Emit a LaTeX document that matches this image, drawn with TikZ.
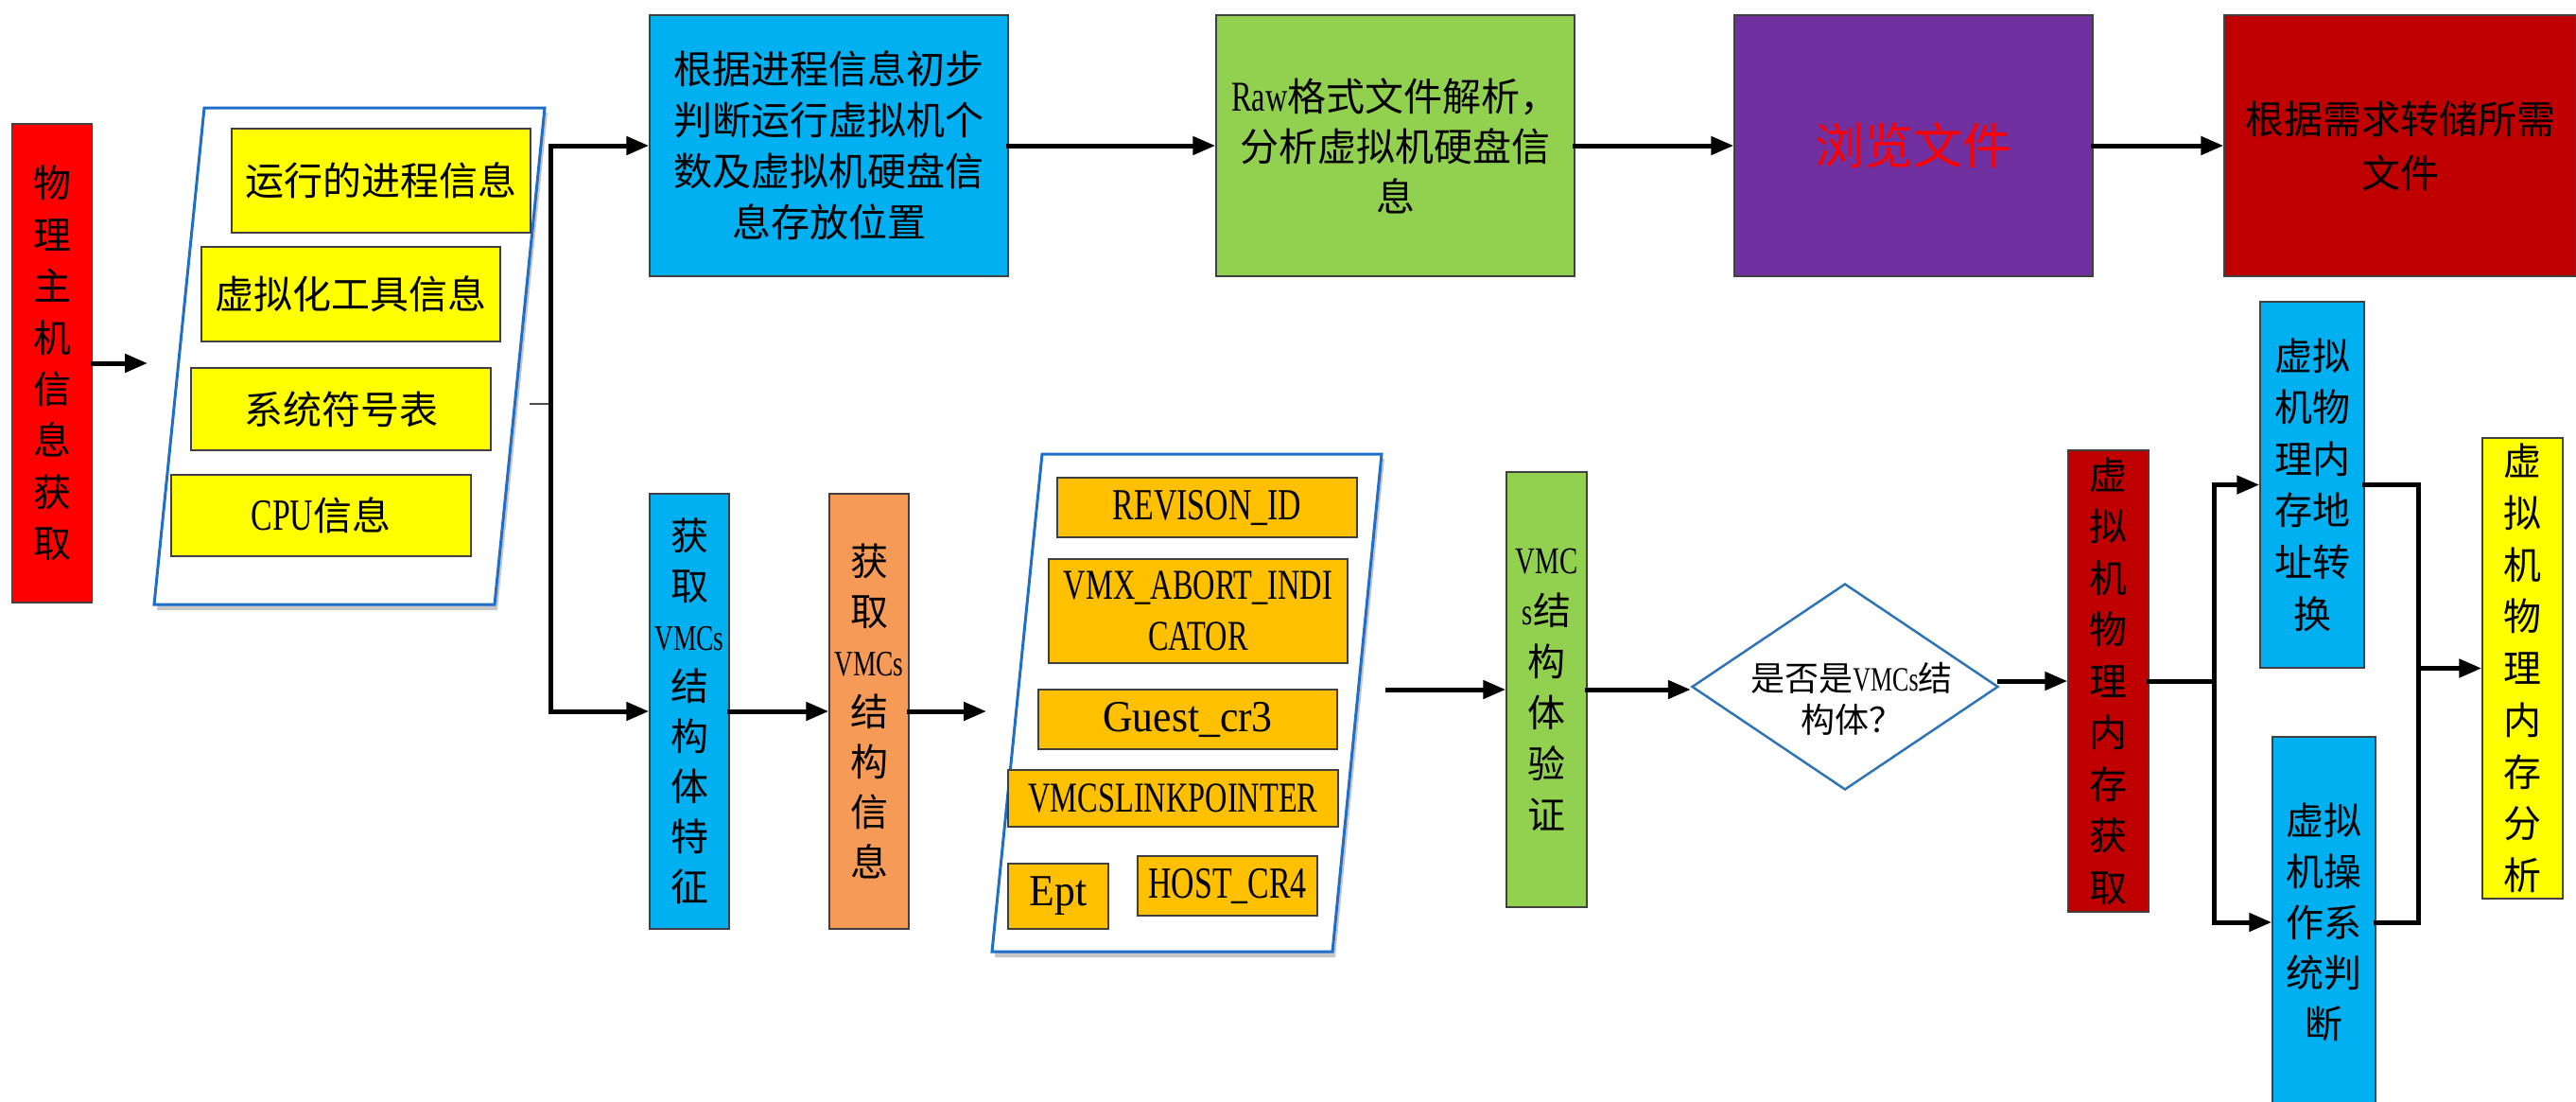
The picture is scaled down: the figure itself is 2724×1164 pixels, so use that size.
\documentclass[tikz,border=0pt]{standalone}
\usepackage{fontspec}
\setmainfont{Noto Sans CJK SC}
\newfontfamily\lat[FakeStretch=0.72]{Liberation Serif}
\newfontfamily\latw[FakeStretch=0.93]{Liberation Serif}
\usetikzlibrary{shapes.geometric,arrows.meta}
\definecolor{cRed}{HTML}{FF0000}
\definecolor{cYellow}{HTML}{FFFF00}
\definecolor{cBlue}{HTML}{00B0F0}
\definecolor{cGreen}{HTML}{92D050}
\definecolor{cPurple}{HTML}{7030A0}
\definecolor{cDarkRed}{HTML}{C00000}
\definecolor{cOrange}{HTML}{F59B57}
\definecolor{cGold}{HTML}{FFC000}
\definecolor{parBlue}{HTML}{1F6FC8}
\definecolor{diaBlue}{HTML}{2E75B6}
\definecolor{edgeGray}{HTML}{404040}
\newcommand{\ltn}[2]{{\lat\fontsize{#1}{54}\selectfont #2}}
\begin{document}
\begin{tikzpicture}[x=1pt,y=-1pt,
  flowbox/.style={rectangle, draw=edgeGray, line width=1.5pt, inner sep=0pt, align=center},
  goldbox/.style={flowbox, fill=cGold, font=\lat\fontsize{47}{54}\selectfont},
  arr/.style={-{Triangle[length=24pt,width=19pt]}, line width=5pt, line cap=rect},
  ln/.style={line width=5pt, line cap=rect},
  shadowfill/.style={fill=black!22, draw=none}
]
\useasboundingbox (0,0) rectangle (2724,1164);
\clip (0,0) rectangle (2724,1164);

% ---- left: physical host
\node[flowbox, fill=cRed, minimum width=85pt, minimum height=506pt,
      font=\fontsize{40}{54.4}\selectfont] (phys) at (55,384)
      {物\\理\\主\\机\\信\\息\\获\\取};

% parallelogram 1
\fill[shadowfill] (219,119) -- (579,119) -- (526,645) -- (166,645) -- cycle;
\draw[parBlue, line width=3pt, fill=white] (216,114) -- (576,114) -- (523,639) -- (163,639) -- cycle;

\node[flowbox, fill=cYellow, minimum width=316pt, minimum height=110pt,
      font=\fontsize{41}{54}\selectfont] (info1) at (403,191) {运行的进程信息};
\node[flowbox, fill=cYellow, minimum width=316pt, minimum height=100pt,
      font=\fontsize{41}{54}\selectfont] (info2) at (371,311) {虚拟化工具信息};
\node[flowbox, fill=cYellow, minimum width=317pt, minimum height=87pt,
      font=\fontsize{41}{54}\selectfont] (info3) at (360.5,432.5) {系统符号表};
\node[flowbox, fill=cYellow, minimum width=317pt, minimum height=86pt,
      font=\fontsize{41}{54}\selectfont] (info4) at (339.5,545) {\ltn{47}{CPU}信息};

% ---- top row
\node[flowbox, fill=cBlue, minimum width=379pt, minimum height=276pt,
      font=\fontsize{41}{54}\selectfont] (vmpos) at (876.5,154)
      {根据进程信息初步\\判断运行虚拟机个\\数及虚拟机硬盘信\\息存放位置};
\node[flowbox, fill=cGreen, minimum width=379pt, minimum height=276pt,
      font=\fontsize{41}{53}\selectfont] (raw) at (1475.5,154)
      {\ltn{45}{Raw}格式文件解析，\\分析虚拟机硬盘信\\息};
\node[flowbox, fill=cPurple, minimum width=379pt, minimum height=276pt,
      font=\fontsize{52}{60}\selectfont, text=cRed] (browse) at (2023.5,154) {浏览文件};
\node[flowbox, fill=cDarkRed, minimum width=372pt, minimum height=276pt,
      font=\fontsize{41}{57}\selectfont] (dump) at (2538,154)
      {根据需求转储所需\\文件};

% ---- bottom row
\node[flowbox, fill=cBlue, minimum width=84pt, minimum height=460pt,
      font=\fontsize{40}{53}\selectfont] (feat) at (729,752)
      {获\\取\\\ltn{38}{VMCs}\\结\\构\\体\\特\\征};
\node[flowbox, fill=cOrange, minimum width=84pt, minimum height=460pt,
      font=\fontsize{40}{53}\selectfont] (sinfo) at (919,752)
      {获\\取\\\ltn{38}{VMCs}\\结\\构\\信\\息};

% parallelogram 2
\fill[shadowfill] (1105,485) -- (1464,485) -- (1412,1012) -- (1052,1012) -- cycle;
\draw[parBlue, line width=3pt, fill=white] (1102,480) -- (1461,480) -- (1409,1006) -- (1049,1006) -- cycle;

\node[goldbox, minimum width=317pt, minimum height=63pt] (rev) at (1276.5,536.5) {REVISON\_ID};
\node[goldbox, minimum width=316pt, minimum height=110pt,
      font=\lat\fontsize{45}{54}\selectfont] (vmx) at (1267,646) {VMX\_ABORT\_INDI\\CATOR};
\node[goldbox, minimum width=316pt, minimum height=63pt,
      font=\latw\fontsize{47}{54}\selectfont] (gcr) at (1256,760.5) {Guest\_cr3};
\node[goldbox, minimum width=349pt, minimum height=60pt,
      font=\lat\fontsize{45}{54}\selectfont] (link) at (1240.5,844) {VMCSLINKPOINTER};
\node[goldbox, minimum width=106pt, minimum height=69pt,
      font=\latw\fontsize{47}{54}\selectfont] (ept) at (1119,947.5) {Ept};
\node[goldbox, minimum width=190pt, minimum height=63pt] (host) at (1298,936.5) {HOST\_CR4};

\node[flowbox, fill=cGreen, minimum width=85pt, minimum height=460pt,
      font=\fontsize{40}{54}\selectfont] (verify) at (1635.5,729)
      {\ltn{40}{VMC}\\\ltn{40}{s}结\\构\\体\\验\\证};

\node[diamond, draw=diaBlue, line width=2.5pt, fill=white, inner sep=0pt,
      minimum width=324pt, minimum height=218pt] (dia) at (1951,726) {};
\node[align=center, inner sep=0pt, font=\fontsize{36}{44}\selectfont] (diatext) at (1958,739)
      {是否是\ltn{36}{VMCs}结\\构体？};

\node[flowbox, fill=cDarkRed, minimum width=85pt, minimum height=488pt,
      font=\fontsize{40}{54.5}\selectfont] (vmget) at (2229.5,720)
      {虚\\拟\\机\\物\\理\\内\\存\\获\\取};
\node[flowbox, fill=cBlue, minimum width=110pt, minimum height=387pt,
      font=\fontsize{40}{54.6}\selectfont] (addr) at (2445,512.5)
      {虚拟\\机物\\理内\\存地\\址转\\换};
\node[flowbox, fill=cBlue, minimum width=109pt, minimum height=392pt,
      font=\fontsize{40}{53.75}\selectfont] (os) at (2457.5,975)
      {虚拟\\机操\\作系\\统判\\断};
\node[flowbox, fill=cYellow, minimum width=85pt, minimum height=487pt,
      font=\fontsize{40}{54.75}\selectfont] (ana) at (2667.5,706.5)
      {虚\\拟\\机\\物\\理\\内\\存\\分\\析};

% ---- connectors
\coordinate (t1) at (156,384);
\draw[arr] (phys.east) -- (t1);
\coordinate (stub) at (560,427);
\coordinate (j1) at (582,427);
\draw[line width=1.5pt, black!70] (stub) -- (j1);
\draw[arr] (j1) |- (vmpos.west);
\draw[arr] (j1) |- (feat.west);
\draw[arr] (vmpos.east) -- (raw.west);
\draw[arr] (raw.east) -- (browse.west);
\draw[arr] (browse.east) -- (dump.west);

\draw[arr] (feat.east) -- (sinfo.west);
\coordinate (t2) at (1043,752);
\draw[arr] (sinfo.east) -- (t2);
\coordinate (s3) at (1467,729);
\draw[arr] (s3) -- (verify.west);
\draw[arr] (verify.east) -- (verify.east -| dia.west);
\draw[arr] (dia.east |- vmget.west) -- (vmget.west);

\coordinate (j2) at (2341,720);
\draw[ln] (vmget.east) -- (j2);
\draw[arr] (j2) |- (addr.west);
\draw[arr] (j2) |- (os.west);
\coordinate (j3) at (2557,706.5);
\draw[ln] (addr.east) -| (j3);
\draw[ln] (os.east) -| (j3);
\draw[arr] (j3) -- (ana.west);
\end{tikzpicture}
\end{document}
